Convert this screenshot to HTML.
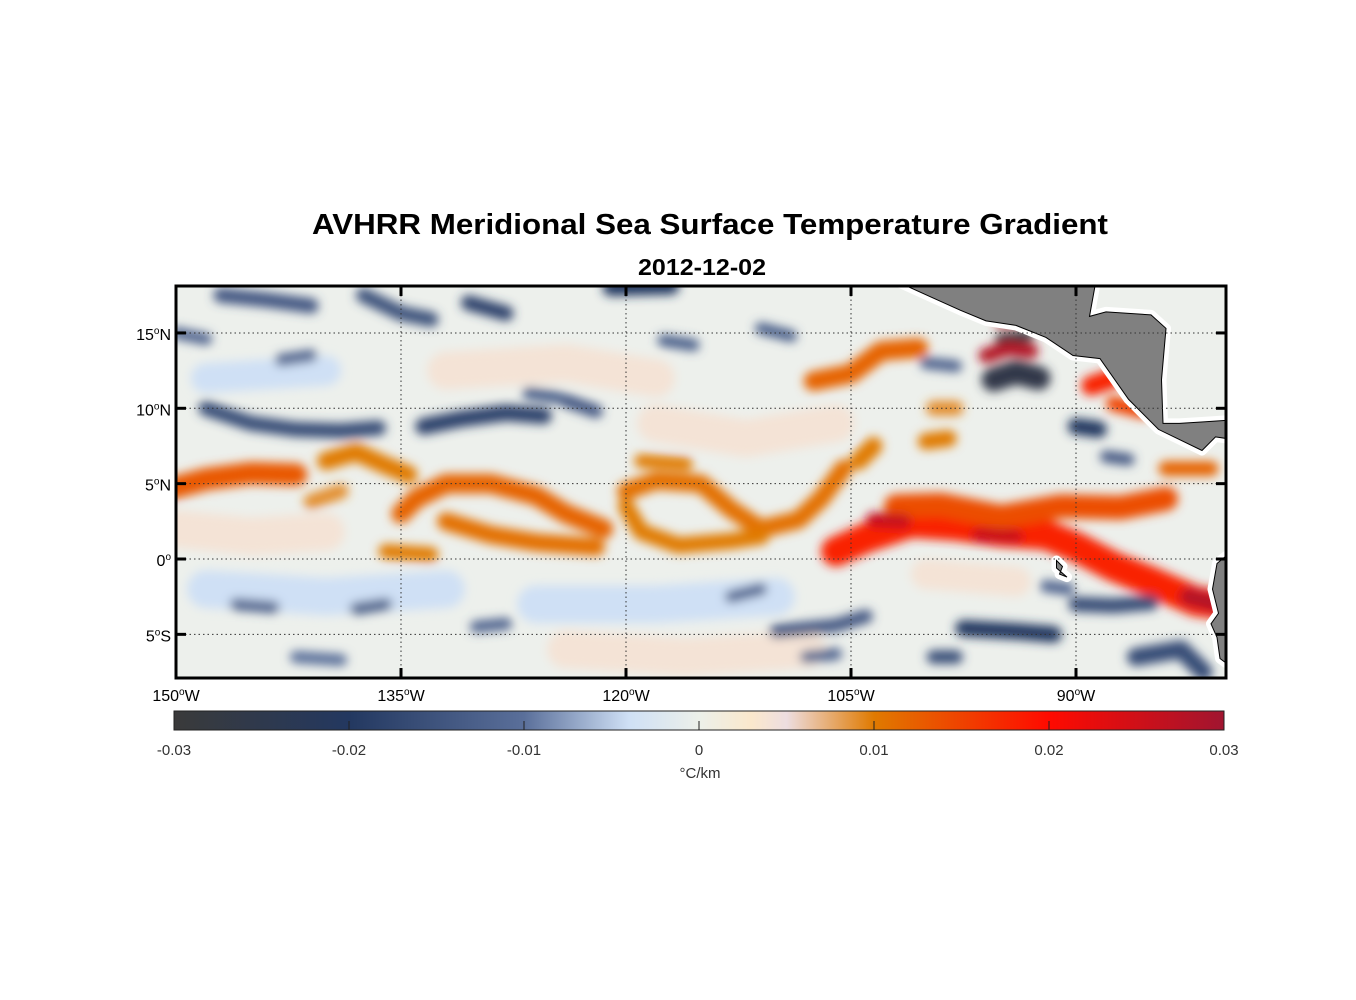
<!DOCTYPE html>
<html><head><meta charset="utf-8"><style>
html,body{margin:0;padding:0;background:#fff;}
svg{display:block;font-family:"Liberation Sans",Arial,sans-serif;}
</style></head><body>
<svg id="fig" width="1356" height="1000" viewBox="0 0 1356 1000">
<defs>
<filter id="blur" x="-20%" y="-50%" width="140%" height="200%"><feGaussianBlur stdDeviation="5"/></filter>
<clipPath id="mapclip"><rect x="176" y="286" width="1050" height="392"/></clipPath>
<linearGradient id="cbgrad" x1="0" x2="1" y1="0" y2="0"></linearGradient>
</defs>
<text x="710" y="234" text-anchor="middle" font-size="29" font-weight="bold" textLength="796" lengthAdjust="spacingAndGlyphs">AVHRR Meridional Sea Surface Temperature Gradient</text>
<text x="702" y="275" text-anchor="middle" font-size="23" font-weight="bold" textLength="128" lengthAdjust="spacingAndGlyphs">2012-12-02</text>
<g id="map" clip-path="url(#mapclip)">
<rect x="176" y="286" width="1050" height="392" fill="#edf0ec"/>
<g id="field" filter="url(#blur)"></g>
<g id="land"></g>
</g>
<g id="grid"></g>
<rect x="176" y="286" width="1050" height="392" fill="none" stroke="#000" stroke-width="3"/>
<g id="axes"></g>
<rect id="cbar" x="174" y="711" width="1050" height="19" fill="url(#cbgrad)" stroke="#222" stroke-width="1"/>
<g id="cbticks"></g>
<text x="700" y="778" text-anchor="middle" font-size="15" fill="#333">°C/km</text>
</svg>
<script>
const lonTicks=[150,135,120,105,90];
const latTicks=[15,10,5,0,-5];
const cbTicks=[-0.03,-0.02,-0.01,0,0.01,0.02,0.03];
const cbStops=[-0.03,-0.02,-0.01,-0.004,0,0.003,0.005,0.01,0.02,0.03];
const cbColors=["#3a3a3a","#233860","#5a6f9a","#cfe0f5","#ecf0ea","#fbe8cc","#eddde0","#e07a00","#ff0a00","#a01530"];
// features: [value, thickness(deg lat), points lon W / lat]
const features=[
[0.004,2.5,[[150,2],[145,1.5],[140,1.8]]],
[0.004,2.5,[[118,9],[112,8],[106,9]]],
[0.004,2.5,[[132,12.5],[124,13],[118,12]]],
[-0.004,2.5,[[148,-2],[140,-2.5],[132,-2]]],
[-0.004,2.5,[[126,-3],[118,-3],[110,-2.5]]],
[0.004,2.5,[[124,-6],[116,-6.5],[108,-6]]],
[-0.004,2.0,[[148,12],[140,12.5]]],
[0.004,2.0,[[100,-1],[94,-1.5]]],
[0.013,1.5,[[151,4.5],[148,5.3],[145,5.7],[142,5.6]]],
[0.010,1.2,[[140,6.5],[138,7.1],[136,6.2],[134.5,5.6]]],
[0.009,1.0,[[141,3.8],[139,4.5]]],
[0.012,1.3,[[135,3],[134,4],[132,5],[129,5],[126,4.2],[124,3],[121.5,2]]],
[0.011,1.2,[[132,2.5],[129,1.6],[126,1.1],[122,0.8]]],
[0.010,1.0,[[136,0.5],[133,0.3]]],
[0.011,1.2,[[120,4.5],[118,5.2],[115,5],[113,3.3],[111,2],[108.5,2.6],[107,4],[105.5,6]]],
[0.010,1.1,[[120,3.5],[119,1.8],[116.5,0.9],[113,1.2],[111,1.5]]],
[0.010,0.9,[[119,6.5],[116,6.3]]],
[0.012,1.3,[[107.5,11.8],[105,12.3],[103,13.8],[100.5,14]]],
[0.010,1.2,[[104.5,6.5],[103.5,7.5]]],
[0.009,1.0,[[99.5,10],[98,10]]],
[0.010,1.1,[[100,7.8],[98.5,8]]],
[0.027,0.8,[[95,15.8],[93.5,16]]],
[-0.028,0.8,[[95,14.6],[93.2,14.8]]],
[0.028,1.0,[[96,13.5],[94.5,14],[93,13.8]]],
[-0.026,1.6,[[95.5,11.9],[94,12.4],[92.5,12]]],
[0.018,1.3,[[89,11.5],[87.5,12]]],
[0.015,1.0,[[87.5,10.3],[85.5,9.8]]],
[-0.02,1.1,[[90,8.8],[88.5,8.6]]],
[-0.014,0.8,[[88,6.8],[86.5,6.6]]],
[0.018,2.0,[[106,0.5],[104,1.4],[101,2.4],[98,2.2],[95,1.8],[92,1.6],[90,0.8],[87.5,-0.5],[85,-1.5],[82,-2.8],[80.5,-3]]],
[0.014,1.6,[[102,3.5],[99,3.6],[95,2.8],[91,3.5],[87,3.4],[84,4]]],
[0.026,1.0,[[103.5,2.6],[101.5,2.5]]],
[0.026,0.9,[[96.5,1.6],[94,1.5]]],
[0.028,1.2,[[82.5,-2.5],[80.5,-3]]],
[0.012,1.0,[[84,6],[81,6]]],
[-0.016,1.0,[[148,10],[145,9],[142,8.6],[139,8.5],[136.5,8.7]]],
[-0.018,1.1,[[133.5,8.8],[131,9.3],[128,9.7],[125.5,9.5]]],
[-0.014,0.9,[[124,10.5],[122,9.8]]],
[-0.014,1.0,[[147,17.5],[144,17.2],[141,16.8]]],
[-0.015,1.0,[[137.5,17.5],[135,16.3],[133,15.9]]],
[-0.018,1.0,[[130.5,17],[128,16.3]]],
[-0.02,1.1,[[121,18],[117,18.1]]],
[-0.013,0.8,[[117.5,14.5],[115.5,14.2]]],
[-0.013,0.8,[[111,15.3],[109,14.8]]],
[-0.012,0.8,[[143,13.2],[141,13.5]]],
[-0.012,0.8,[[150,15],[148,14.6]]],
[-0.013,0.8,[[126.5,11],[124.5,10.7]]],
[-0.012,0.8,[[100,13],[98,12.8]]],
[-0.012,0.8,[[146,-3],[143.5,-3.2]]],
[-0.013,0.8,[[138,-3.3],[136,-3]]],
[-0.012,0.8,[[130,-4.5],[128,-4.3]]],
[-0.014,0.9,[[110,-4.8],[106,-4.4],[104,-3.8]]],
[-0.012,0.8,[[113,-2.5],[111,-2]]],
[-0.02,1.1,[[97.5,-4.6],[94,-4.8],[91.5,-5]]],
[-0.016,0.9,[[99.5,-6.5],[98,-6.5]]],
[-0.016,1.0,[[90,-3],[87.5,-3.1],[85,-2.9]]],
[-0.016,1.2,[[86,-6.5],[83,-6],[81.5,-7.5]]],
[-0.012,0.8,[[92,-1.8],[90.5,-2]]],
[-0.012,0.8,[[108,-6.5],[106,-6.3]]],
[-0.01,0.8,[[142,-6.5],[139,-6.7]]],
];
const land=[
[[101.7,18.3],[99.7,17.4],[97.7,16.5],[96,15.8],[94,15.5],[92,14.7],[90.2,13.5],[88.4,13.3],[86.5,10.6],[84.5,8.6],[81.6,7.2],[80.7,8.1],[80,8],[80,9.2],[81.5,9.1],[83.1,9.0],[84.2,9.0],[84.3,11.9],[84,15.3],[85,16.2],[88,16.4],[89.1,16.1],[88.7,18.3]],
[[80,0.2],[80.6,-0.3],[80.9,-2],[80.5,-3.6],[81.0,-4.3],[80.6,-5.2],[80.4,-6.6],[80,-6.9]],
[[91.3,-0.1],[90.9,-0.5],[91.1,-1],[90.6,-1.2],[91.3,-0.6]]
];
const NS="http://www.w3.org/2000/svg";
const X=l=>176+(150-l)*15;
const Y=la=>559-la*15.07;
function cmap(v){
  if(v<=cbStops[0])return cbColors[0];
  for(let i=0;i<cbStops.length-1;i++){
    if(v<=cbStops[i+1]){const t=(v-cbStops[i])/(cbStops[i+1]-cbStops[i]);
      const a=h(cbColors[i]),b=h(cbColors[i+1]);
      return "rgb("+a.map((c,k)=>Math.round(c+(b[k]-c)*t)).join(",")+")";}
  }return cbColors[cbColors.length-1];
}
function h(s){return [1,3,5].map(i=>parseInt(s.substr(i,2),16));}
const grad=document.getElementById('cbgrad');
for(let i=0;i<cbStops.length;i++){const s=document.createElementNS(NS,'stop');
s.setAttribute('offset',((cbStops[i]+0.03)/0.06*100)+'%');s.setAttribute('stop-color',cbColors[i]);grad.appendChild(s);}
const field=document.getElementById('field');
features.forEach(f=>{
  const p=document.createElementNS(NS,'path');
  const d=f[2].map((q,i)=>(i?'L':'M')+X(q[0])+','+Y(q[1])).join(' ');
  p.setAttribute('d',d);p.setAttribute('fill','none');
  p.setAttribute('stroke',cmap(f[0]));p.setAttribute('stroke-width',f[1]*15);
  p.setAttribute('stroke-linecap','round');p.setAttribute('stroke-linejoin','round');
  
  
  field.appendChild(p);
});
const lg=document.getElementById('land');
land.forEach(poly=>{
  const pts=poly.map(q=>X(q[0])+','+Y(q[1])).join(' ');
  const halo=document.createElementNS(NS,'polygon');
  halo.setAttribute('points',pts);halo.setAttribute('fill','#fff');halo.setAttribute('stroke','#fff');halo.setAttribute('stroke-width','10');halo.setAttribute('stroke-linejoin','round');
  
  
  lg.appendChild(halo);
  const p=document.createElementNS(NS,'polygon');
  p.setAttribute('points',pts);
  p.setAttribute('fill','#808080');p.setAttribute('stroke','#000');p.setAttribute('stroke-width','1');
  
  
  lg.appendChild(p);
});
const grid=document.getElementById('grid'),axes=document.getElementById('axes');
function line(g,x1,y1,x2,y2,st,w,dash){const l=document.createElementNS(NS,'line');
l.setAttribute('x1',x1);l.setAttribute('y1',y1);l.setAttribute('x2',x2);l.setAttribute('y2',y2);
l.setAttribute('stroke',st);l.setAttribute('stroke-width',w);if(dash)l.setAttribute('stroke-dasharray',dash);g.appendChild(l);return l;}
function txt(g,x,y,html,anchor,size){const t=document.createElementNS(NS,'text');t.setAttribute('x',x);t.setAttribute('y',y);
t.setAttribute('text-anchor',anchor);t.setAttribute('font-size',size);t.innerHTML=html;g.appendChild(t);return t;}
lonTicks.forEach(l=>{const x=X(l);
  const g1=line(grid,x,286,x,678,'#333',1,'1.5,3');
  
  
  line(axes,x,286,x,296,'#000',3);line(axes,x,668,x,678,'#000',3);
  const t=txt(axes,x,701,l+'<tspan dy="-6" font-size="10">o</tspan><tspan dy="6">W</tspan>','middle',16);
  
  
});
latTicks.forEach(la=>{const y=Y(la);
  const g1=line(grid,176,y,1226,y,'#333',1,'1.5,3');
  
  
  line(axes,176,y,186,y,'#000',3);line(axes,1216,y,1226,y,'#000',3);
  const suf=la>0?'N':(la<0?'S':'');
  const t=txt(axes,171,y+7,Math.abs(la)+'<tspan dy="-6" font-size="10">o</tspan><tspan dy="6">'+suf+'</tspan>','end',16);
  
  
});
const cbt=document.getElementById('cbticks');
cbTicks.forEach(v=>{const x=174+(v+0.03)/0.06*1050;
  if(v>-0.03&&v<0.03)line(cbt,x,721,x,730,'#222',1);
  const t=txt(cbt,x,755,String(v),'middle',15);t.setAttribute('fill','#333');
  
  
});
</script>
</body></html>
